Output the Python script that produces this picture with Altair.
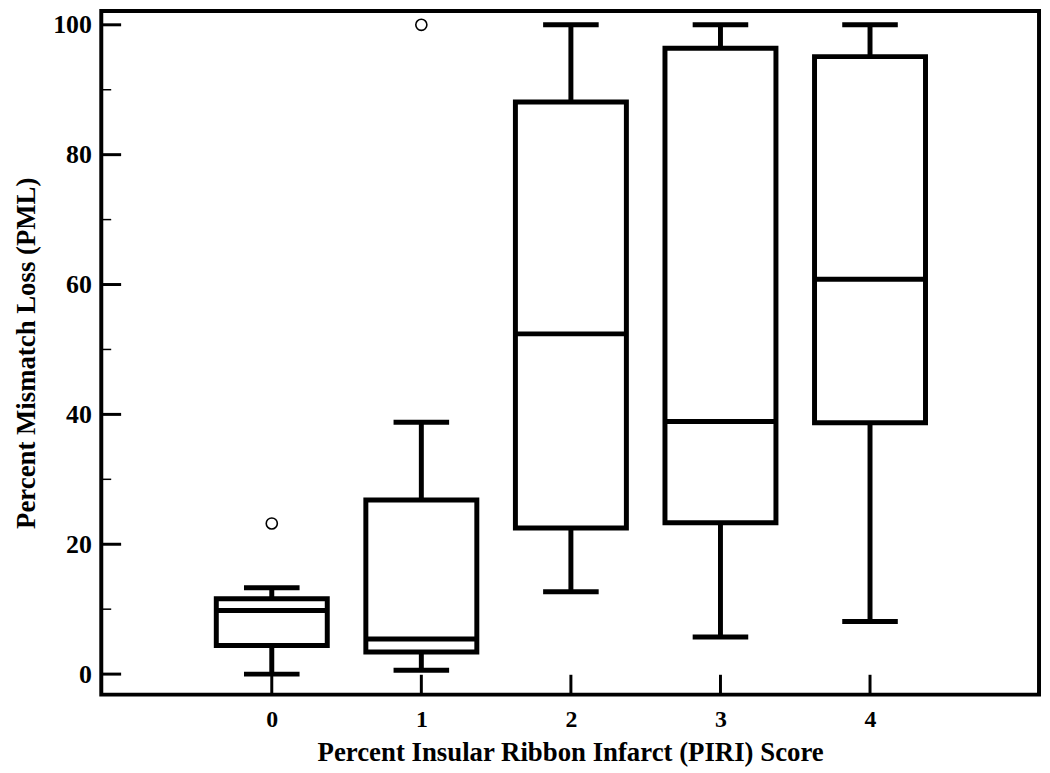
import altair as alt
import pandas as pd

# Box-plot statistics
groups = [0, 1, 2, 3, 4]
lower_whisker = [0.0, 0.6, 12.7, 5.7, 8.1]
q1 = [4.4, 3.4, 22.5, 23.3, 38.7]
median = [9.8, 5.4, 52.4, 38.9, 60.8]
q3 = [11.6, 26.8, 88.1, 96.4, 95.1]
upper_whisker = [13.3, 38.8, 100.0, 100.0, 100.0]

outlier_groups = [0, 1]
outlier_values = [23.2, 100.0]

y_major = [0, 20, 40, 60, 80, 100]
y_minor = [10, 30, 50, 70, 90]
x_ticks = [0, 1, 2, 3, 4]

FONT = "Liberation Serif"
HALF_BOX = 0.371

box_df = pd.DataFrame({
    "g": groups, "lo": lower_whisker, "q1": q1, "med": median,
    "q3": q3, "hi": upper_whisker,
})
out_df = pd.DataFrame({"g": outlier_groups, "v": outlier_values})
ymaj_df = pd.DataFrame({"v": y_major})
ymin_df = pd.DataFrame({"v": y_minor})
xt_df = pd.DataFrame({"g": x_ticks})

xscale = alt.Scale(domain=[-1.14, 5.13], nice=False, zero=False)
yscale = alt.Scale(domain=[-3.16, 102.14], nice=False, zero=False)

x_axis = alt.Axis(
    values=x_ticks, ticks=False, domain=False, grid=False,
    labelFont=FONT, labelFontWeight="bold", labelFontSize=24, labelColor="black",
    labelPadding=13, format="d",
    title="Percent Insular Ribbon Infarct (PIRI) Score",
    titleFont=FONT, titleFontWeight="bold", titleFontSize=27, titleColor="black",
    titlePadding=8,
)
y_axis = alt.Axis(
    values=y_major, ticks=False, domain=False, grid=False,
    labelFont=FONT, labelFontWeight="bold", labelFontSize=26, labelColor="black",
    labelPadding=10, format="d",
    title="Percent Mismatch Loss (PML)",
    titleFont=FONT, titleFontWeight="bold", titleFontSize=27, titleColor="black",
    titlePadding=12,
)

base = alt.Chart(box_df)

whisk_low = base.mark_rule(color="black", strokeWidth=5).encode(
    x=alt.X("g:Q", scale=xscale, axis=x_axis),
    y=alt.Y("lo:Q", scale=yscale, axis=y_axis),
    y2="q1:Q",
)
whisk_high = base.mark_rule(color="black", strokeWidth=5).encode(
    x=alt.X("g:Q", scale=xscale),
    y=alt.Y("q3:Q", scale=yscale),
    y2="hi:Q",
)
boxes = base.transform_calculate(
    xl=f"datum.g - {HALF_BOX}", xr=f"datum.g + {HALF_BOX}"
).mark_rect(fill="white", stroke="black", strokeWidth=5).encode(
    x=alt.X("xl:Q", scale=xscale),
    x2="xr:Q",
    y=alt.Y("q1:Q", scale=yscale),
    y2="q3:Q",
)
medians = base.mark_tick(orient="horizontal", size=112, thickness=5, color="black", opacity=1).encode(
    x=alt.X("g:Q", scale=xscale),
    y=alt.Y("med:Q", scale=yscale),
)
caps_low = base.mark_tick(orient="horizontal", size=56, thickness=5, color="black", opacity=1).encode(
    x=alt.X("g:Q", scale=xscale),
    y=alt.Y("lo:Q", scale=yscale),
)
caps_high = base.mark_tick(orient="horizontal", size=56, thickness=5, color="black", opacity=1).encode(
    x=alt.X("g:Q", scale=xscale),
    y=alt.Y("hi:Q", scale=yscale),
)
outliers = alt.Chart(out_df).mark_point(
    shape="circle", size=125, filled=False, color="black", strokeWidth=1.6, opacity=1
).encode(
    x=alt.X("g:Q", scale=xscale),
    y=alt.Y("v:Q", scale=yscale),
)
ymaj_ticks = alt.Chart(ymaj_df).mark_rule(color="black", strokeWidth=3).encode(
    x=alt.value(0), x2=alt.value(20),
    y=alt.Y("v:Q", scale=yscale),
)
ymin_ticks = alt.Chart(ymin_df).mark_rule(color="black", strokeWidth=1.5).encode(
    x=alt.value(0), x2=alt.value(10),
    y=alt.Y("v:Q", scale=yscale),
)
x_tick_marks = alt.Chart(xt_df).mark_rule(color="black", strokeWidth=3).encode(
    x=alt.X("g:Q", scale=xscale),
    y=alt.value(669), y2=alt.value(689),
)

chart = alt.layer(
    whisk_low, whisk_high, boxes, medians, caps_low, caps_high,
    outliers, ymaj_ticks, ymin_ticks, x_tick_marks,
).properties(
    width=945, height=689,
    autosize=alt.AutoSizeParams(type="none"),
    padding={"left": 94, "top": 0, "right": 3, "bottom": 70},
    background="white",
).configure_view(stroke="black", strokeWidth=4)

chart.save("out.html", embed_options={"renderer": "svg", "actions": False})
